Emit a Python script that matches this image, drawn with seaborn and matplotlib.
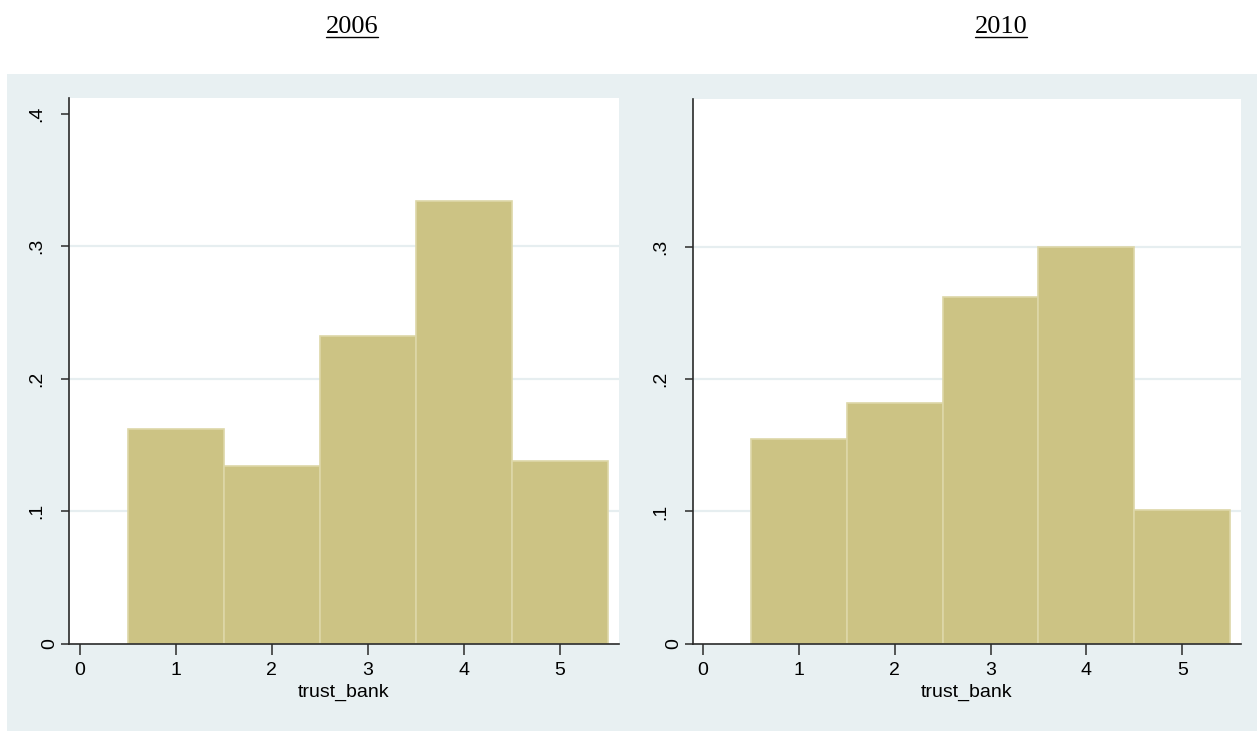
import numpy as np
import pandas as pd
import matplotlib
matplotlib.use("Agg")
import matplotlib.pyplot as plt
from matplotlib.patches import Rectangle
from matplotlib.lines import Line2D
from matplotlib.transforms import ScaledTranslation
import seaborn as sns

# Share of respondents at each level of trust in banks
trust_levels = [1, 2, 3, 4, 5]
share_2006 = [0.162, 0.134, 0.232, 0.334, 0.138]
share_2010 = [0.155, 0.182, 0.262, 0.300, 0.101]
years = ["2006", "2010"]
x_ticks = [0, 1, 2, 3, 4, 5]
y_ticks_2006 = [0, 0.1, 0.2, 0.3, 0.4]
y_labels_2006 = ["0", ".1", ".2", ".3", ".4"]
y_ticks_2010 = [0, 0.1, 0.2, 0.3]
y_labels_2010 = ["0", ".1", ".2", ".3"]
grid_levels = [0.1, 0.2, 0.3]

sns.set_theme(style="white")
plt.rcParams["font.family"] = ["Liberation Sans", "DejaVu Sans"]

W, H = 1257, 732
fig = plt.figure(figsize=(W / 100, H / 100), dpi=100)
fig.patch.set_facecolor("white")

BG = "#E8F0F2"
BAR = "#CCC384"
EDGE = "#DDD7A8"
GRID = "#E6EEF0"
AXC = "#2A2A2A"

# graph region background
fig.patches.append(Rectangle((7 / W, 1 - 731 / H), (W - 7) / W, (731 - 74) / H,
                             transform=fig.transFigure, facecolor=BG,
                             edgecolor="none", zorder=-10))


def px_box(x0, x1, ytop, ybot):
    return [x0 / W, 1 - ybot / H, (x1 - x0) / W, (ybot - ytop) / H]


panels = [
    dict(year=years[0], values=share_2006, box=px_box(69, 619, 98, 643.7),
         xlim=(-0.110, 5.613), yticks=y_ticks_2006, ylabels=y_labels_2006,
         title_x=352),
    dict(year=years[1], values=share_2010, box=px_box(693, 1241, 99, 643.7),
         xlim=(-0.106, 5.614), yticks=y_ticks_2010, ylabels=y_labels_2010,
         title_x=1001),
]

axes = []
for p in panels:
    ax = fig.add_axes(p["box"])
    ax.set_zorder(1)
    ax.set_facecolor("white")
    df = pd.DataFrame({"trust_bank": trust_levels, "share": p["values"]})
    sns.histplot(data=df, x="trust_bank", weights="share", discrete=True,
                 shrink=1.0, color=BAR, alpha=1.0, edgecolor=EDGE,
                 linewidth=1.2, ax=ax, zorder=2)
    ax.set_xlim(*p["xlim"])
    ax.set_ylim(0, 0.4118)
    for gy in grid_levels:
        ax.axhline(gy, color=GRID, linewidth=1.6, zorder=1)
    for side in ["top", "right"]:
        ax.spines[side].set_visible(False)
    for side in ["left", "bottom"]:
        ax.spines[side].set_color(AXC)
        ax.spines[side].set_linewidth(1.2)
        ax.spines[side].set_zorder(3)
    ax.set_xticks(x_ticks, [str(t) for t in x_ticks])
    ax.set_yticks(p["yticks"], p["ylabels"])
    ax.tick_params(axis="x", direction="out", length=8, width=1.1, color=AXC,
                   pad=5, labelsize=14, labelcolor="black", bottom=True)
    ax.tick_params(axis="y", direction="out", length=6, width=1.1, color=AXC,
                   pad=11, labelsize=14, labelcolor="black", left=True,
                   labelrotation=90)
    for lbl in ax.get_yticklabels():
        lbl.set_va("center")
    ax.set_xlabel("trust_bank", fontsize=14, labelpad=4, color="black")
    ax.set_ylabel("")
    ax.grid(False)
    axes.append((ax, p))

fig.canvas.draw()
renderer = fig.canvas.get_renderer()

# the zero label sits closer to the axis than the decimal labels
for ax, p in axes:
    for lbl in ax.get_yticklabels():
        if lbl.get_text() == "0":
            lbl.set_transform(lbl.get_transform() +
                              ScaledTranslation(13 / 100, 0, fig.dpi_scale_trans))

# underlined year headings
for ax, p in axes:
    t = fig.text(p["title_x"] / W, 1 - 33 / H, p["year"], ha="center",
                 va="baseline", fontsize=19, family="Liberation Serif",
                 color="black")
    bb = t.get_window_extent(renderer)
    yline = 1 - 36.5 / H
    fig.lines.append(Line2D([bb.x0 / W, bb.x1 / W], [yline, yline],
                            transform=fig.transFigure, color="black",
                            linewidth=1.0))

fig.savefig("out.png", dpi=100, facecolor="white")
